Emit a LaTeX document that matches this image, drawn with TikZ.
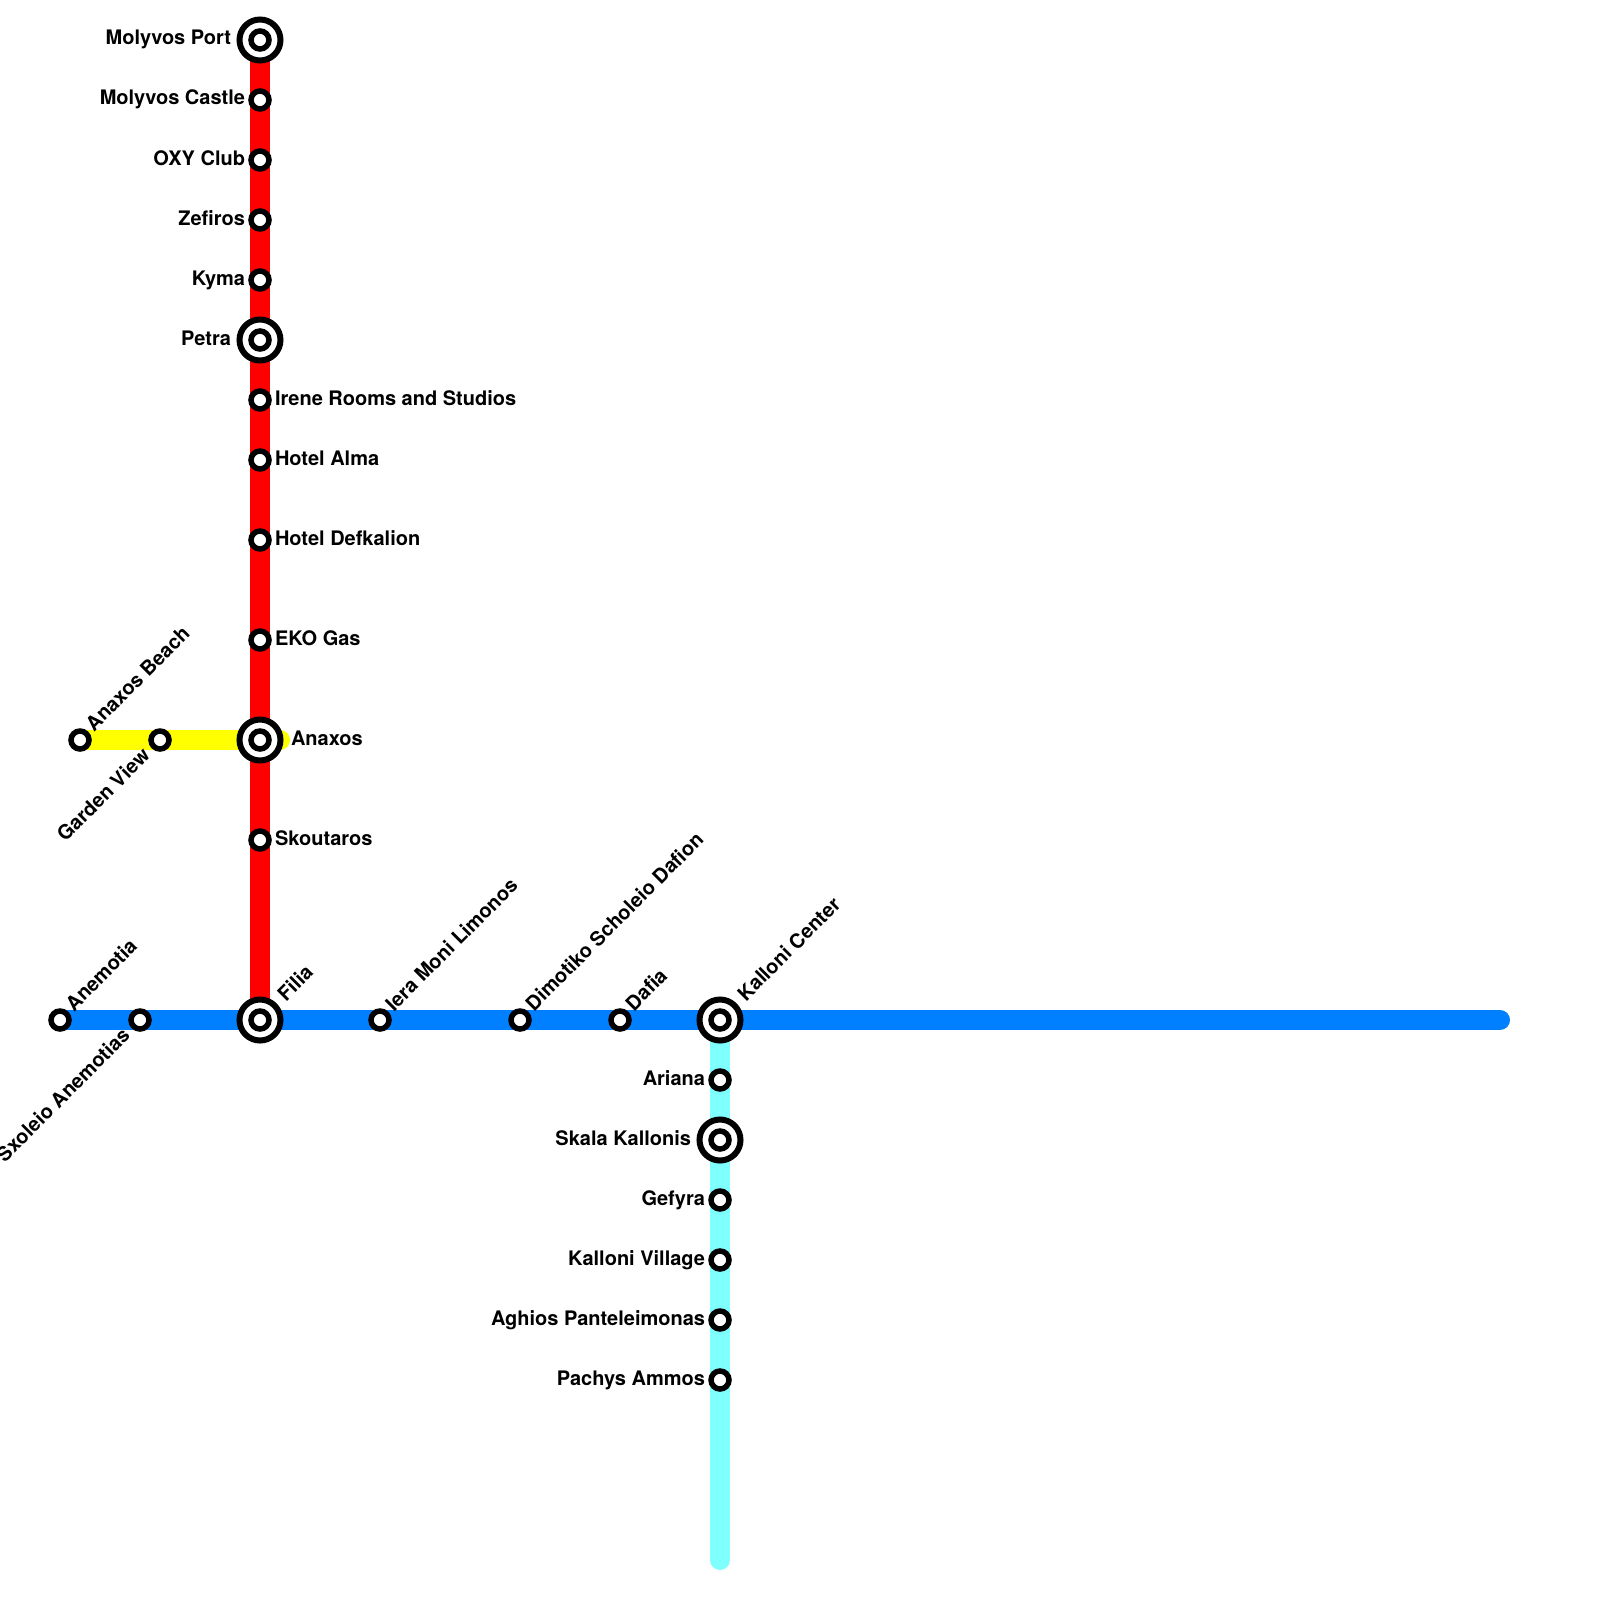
\documentclass[tikz,border=0pt]{standalone}
\usepackage{fontspec}
\setmainfont{TeX Gyre Heros}
\usetikzlibrary{backgrounds}
\definecolor{lred}{RGB}{255,0,0}
\definecolor{lblue}{RGB}{0,128,255}
\definecolor{lcyan}{RGB}{128,255,255}
\definecolor{lyellow}{RGB}{255,255,0}
\tikzset{
  x=1pt,y=-1pt,
  stn/.style={circle,draw=black,fill=white,line width=5.5pt,minimum size=18pt,inner sep=0pt,outer sep=0pt},
  hub/.style={circle,draw=black,fill=white,line width=6pt,minimum size=41pt,inner sep=0pt,outer sep=0pt,
    path picture={\draw[line width=5.5pt] (path picture bounding box.center) circle (9pt);}},
  route/.style={line width=20pt,line cap=round},
  lbl/.style={font=\fontsize{20}{24}\selectfont\bfseries,inner sep=0pt,outer sep=0pt,text=black},
  lL/.style={lbl,anchor=base east},
  lR/.style={lbl,anchor=base west},
  lU/.style={lbl,anchor=base west,rotate=45},
  lD/.style={lbl,anchor=base east,rotate=45},
}
\begin{document}
\begin{tikzpicture}
\path[use as bounding box] (0,0) rectangle (1600,1600);
% red line stations
\node[hub] (mp) at (260,40) {};
\node[stn] (mc) at (260,100) {};
\node[stn] (oxy) at (260,160) {};
\node[stn] (zef) at (260,220) {};
\node[stn] (kym) at (260,280) {};
\node[hub] (pet) at (260,340) {};
\node[stn] (ire) at (260,400) {};
\node[stn] (alm) at (260,460) {};
\node[stn] (def) at (260,540) {};
\node[stn] (eko) at (260,640) {};
\node[hub] (anx) at (260,740) {};
\node[stn] (sko) at (260,840) {};
\node[hub] (fil) at (260,1020) {};
% yellow
\node[stn] (anb) at (80,740) {};
\node[stn] (gar) at (160,740) {};
\coordinate (yend) at (280,740);
% blue
\node[stn] (ane) at (60,1020) {};
\node[stn] (sxo) at (140,1020) {};
\node[stn] (ier) at (380,1020) {};
\node[stn] (dim) at (520,1020) {};
\node[stn] (daf) at (620,1020) {};
\node[hub] (kal) at (720,1020) {};
\coordinate (bend) at (1500,1020);
% cyan
\node[stn] (ari) at (720,1080) {};
\node[hub] (ska) at (720,1140) {};
\node[stn] (gef) at (720,1200) {};
\node[stn] (kvi) at (720,1260) {};
\node[stn] (agh) at (720,1320) {};
\node[stn] (pac) at (720,1380) {};
\coordinate (cend) at (720,1560);
\begin{pgfonlayer}{background}
\draw[route,lyellow] (anb.center) -- (gar.center) -- (anx.center) -- (yend);
\draw[route,lred] (mp.center) -- (fil.center);
\draw[route,lcyan] (kal.center) -- (cend);
\draw[route,lblue] (ane.center) -- (bend);
\end{pgfonlayer}
% labels
\node[lL] (tmp) at (231,45) {Molyvos Port};
\node[lL] (tmc) at (245,105) {Molyvos Castle};
\node[lL] (toxy) at (245,165) {OXY Club};
\node[lL] (tzef) at (245,225) {Zefiros};
\node[lL] (tkym) at (245,285) {Kyma};
\node[lL] (tpet) at (231,345) {Petra};
\node[lR] (tire) at (275,405) {Irene Rooms and Studios};
\node[lR] (talm) at (275,465) {Hotel Alma};
\node[lR] (tdef) at (275,545) {Hotel Defkalion};
\node[lR] (teko) at (275,645) {EKO Gas};
\node[lR] (tanx) at (291,745) {Anaxos};
\node[lR] (tsko) at (275,845) {Skoutaros};
\node[lU] (tfil) at (286,1002) {Filia};
\node[lU] (tanb) at (94,732) {Anaxos Beach};
\node[lD] (tgar) at (151,757) {Garden View};
\node[lU] (tane) at (74,1012) {Anemotia};
\node[lD] (tsxo) at (131,1037) {Sxoleio Anemotias};
\node[lU] (tier) at (394,1012) {Iera Moni Limonos};
\node[lU] (tdim) at (534,1012) {Dimotiko Scholeio Dafion};
\node[lU] (tdaf) at (634,1012) {Dafia};
\node[lU] (tkal) at (746,1002) {Kalloni Center};
\node[lL] (tari) at (705,1085) {Ariana};
\node[lL] (tska) at (691,1145) {Skala Kallonis};
\node[lL] (tgef) at (705,1205) {Gefyra};
\node[lL] (tkvi) at (705,1265) {Kalloni Village};
\node[lL] (tagh) at (705,1325) {Aghios Panteleimonas};
\node[lL] (tpac) at (705,1385) {Pachys Ammos};
\end{tikzpicture}
\end{document}
